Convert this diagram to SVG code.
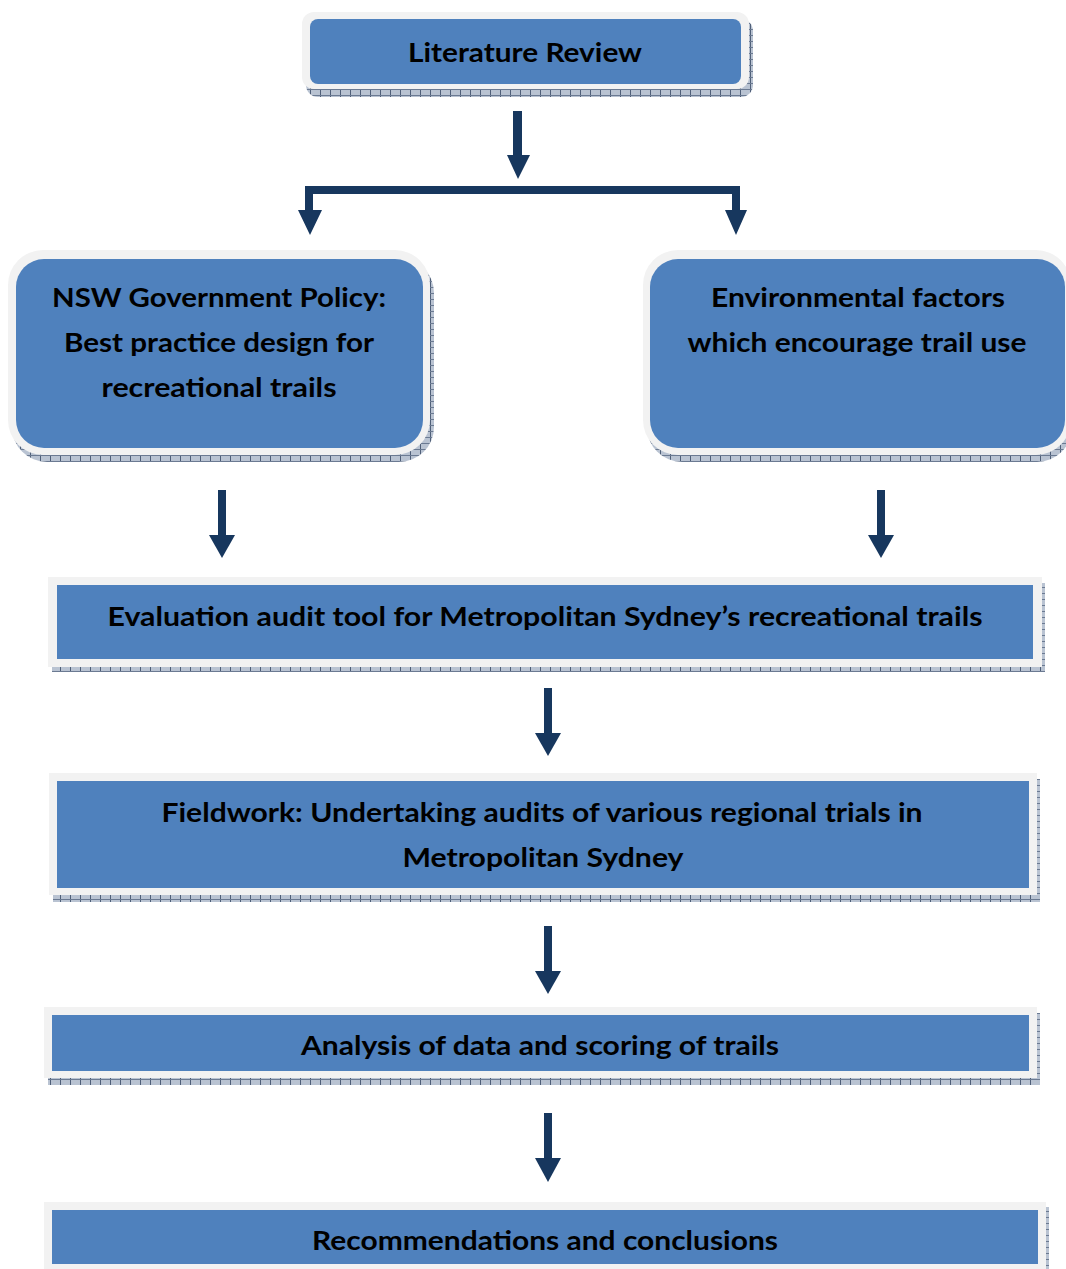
<svg xmlns="http://www.w3.org/2000/svg" width="1066" height="1269" viewBox="0 0 1066 1269">
<defs>
<pattern id="hatch" width="10" height="6" patternUnits="userSpaceOnUse">
<rect width="10" height="6" fill="#b9c3d2"/>
<line x1="0.5" y1="0" x2="0.5" y2="6" stroke="#4f5f78" stroke-width="1"/>
<line x1="0" y1="5.5" x2="10" y2="5.5" stroke="#6b7a92" stroke-width="1"/>
</pattern>
<marker id="ah" viewBox="0 0 24 24" markerWidth="24" markerHeight="24" refX="12" refY="24" orient="auto" markerUnits="userSpaceOnUse">
<path d="M0,0 L24,0 L12,24 Z" fill="#17375e"/>
</marker>
<style>
.sh{fill:url(#hatch);}
.out{fill:#f2f2f2;}
.box{fill:#4f81bd;}
.t{font-family:Lato,"Liberation Sans",sans-serif;font-weight:bold;font-size:27px;fill:#000;text-anchor:middle;}
.arr{fill:#17375e;}
</style>
</defs>
<rect width="1066" height="1269" fill="#ffffff"/>

<g id="connectors">
<!-- top arrow -->
<rect class="arr" x="513" y="111" width="9" height="45"/>
<path class="arr" d="M507,155 L530,155 L518,179 Z"/>
<!-- bracket -->
<path class="arr" d="M305,186 L740,186 L740,210 L747,210 L736,235 L725,210 L732,210 L732,194 L313,194 L313,210 L322,210 L310,235 L298,210 L305,210 Z"/>
<!-- second row -->
<rect class="arr" x="218" y="490" width="8" height="46"/>
<path class="arr" d="M209,535 L235,535 L222,558 Z"/>
<rect class="arr" x="877" y="490" width="8" height="46"/>
<path class="arr" d="M868,535 L894,535 L881,558 Z"/>
<!-- evaluation to fieldwork -->
<rect class="arr" x="544" y="688" width="8" height="46"/>
<path class="arr" d="M535,733 L561,733 L548,756 Z"/>
<!-- fieldwork to analysis -->
<rect class="arr" x="544" y="926" width="8" height="46"/>
<path class="arr" d="M535,971 L561,971 L548,994 Z"/>
<!-- analysis to recommendations -->
<rect class="arr" x="544" y="1113" width="8" height="46"/>
<path class="arr" d="M535,1158 L561,1158 L548,1182 Z"/>
</g>

<g id="literature-review">
<rect class="sh" x="306" y="19" width="447" height="78" rx="12"/>
<rect class="out" x="302" y="12" width="447" height="77" rx="12"/>
<rect class="box" x="310" y="19" width="431" height="65" rx="8"/>
<text class="t" x="525" y="62" textLength="234" lengthAdjust="spacingAndGlyphs">Literature Review</text>
</g>

<g id="nsw-policy">
<rect class="sh" x="12" y="258" width="422" height="204" rx="35"/>
<rect class="out" x="8" y="250" width="422" height="205" rx="35"/>
<rect class="box" x="16" y="259" width="407" height="189" rx="28"/>
<text class="t" x="219" y="307" textLength="334" lengthAdjust="spacingAndGlyphs">NSW Government Policy:</text>
<text class="t" x="219" y="352" textLength="310" lengthAdjust="spacingAndGlyphs">Best practice design for</text>
<text class="t" x="219" y="397" textLength="235" lengthAdjust="spacingAndGlyphs">recreational trails</text>
</g>

<g id="environmental-factors">
<rect class="sh" x="647" y="258" width="425" height="204" rx="35"/>
<rect class="out" x="643" y="250" width="428" height="205" rx="35"/>
<rect class="box" x="650" y="259" width="415" height="189" rx="28"/>
<text class="t" x="858" y="307" textLength="294" lengthAdjust="spacingAndGlyphs">Environmental factors</text>
<text class="t" x="857" y="352" textLength="339" lengthAdjust="spacingAndGlyphs">which encourage trail use</text>
</g>

<g id="evaluation-tool">
<rect class="sh" x="52" y="583" width="993" height="89"/>
<rect class="out" x="48" y="577" width="994" height="90"/>
<rect class="box" x="57" y="585" width="976" height="74"/>
<text class="t" x="545" y="626" textLength="875" lengthAdjust="spacingAndGlyphs">Evaluation audit tool for Metropolitan Sydney’s recreational trails</text>
</g>

<g id="fieldwork">
<rect class="sh" x="53" y="779" width="987" height="123"/>
<rect class="out" x="49" y="773" width="988" height="122"/>
<rect class="box" x="57" y="781" width="972" height="107"/>
<text class="t" x="542" y="822" textLength="761" lengthAdjust="spacingAndGlyphs">Fieldwork: Undertaking audits of various regional trials in</text>
<text class="t" x="543" y="867" textLength="281" lengthAdjust="spacingAndGlyphs">Metropolitan Sydney</text>
</g>

<g id="analysis">
<rect class="sh" x="48" y="1013" width="992" height="72"/>
<rect class="out" x="44" y="1007" width="993" height="71"/>
<rect class="box" x="52" y="1015" width="977" height="56"/>
<text class="t" x="540" y="1055" textLength="478" lengthAdjust="spacingAndGlyphs">Analysis of data and scoring of trails</text>
</g>

<g id="recommendations">
<rect class="sh" x="48" y="1207" width="1001" height="70"/>
<rect class="out" x="44" y="1202" width="1002" height="75"/>
<rect class="box" x="52" y="1210" width="986" height="54"/>
<text class="t" x="545" y="1250" textLength="466" lengthAdjust="spacingAndGlyphs">Recommendations and conclusions</text>
</g>
</svg>
